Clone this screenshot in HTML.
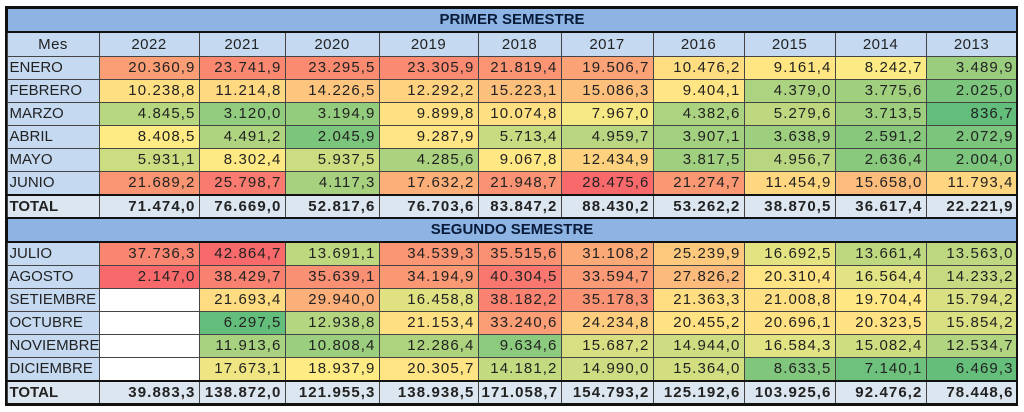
<!DOCTYPE html>
<html><head><meta charset="utf-8"><style>
html,body{margin:0;padding:0;background:#fff;width:1024px;height:412px;overflow:hidden}
table{position:absolute;left:6px;top:7px;border-collapse:collapse;table-layout:fixed;width:1010px;font-family:"Liberation Sans",sans-serif;font-size:15px;color:#222}
td{height:22px;padding:0 3px;border:1px solid #444;white-space:nowrap;overflow:hidden;line-height:20px}
td.n{text-align:right;letter-spacing:1.1px}
td.m{background:#C5D9F1;text-align:left;padding-left:2px;letter-spacing:0}
tr.h td{background:#C5D9F1;text-align:center;letter-spacing:0.5px;height:23px}
tr.t td{background:#8DB4E2;text-align:center;font-weight:bold;border:2px solid #111;color:#0a1a3a;height:22px}
tr.tot td{background:#DCE6F1;font-weight:bold;border-top:2px solid #111;border-bottom:2px solid #111;height:21px}
tr.tot td.n{background:#DCE6F1}
td.w{background:#fff}
.outer{position:absolute;left:5px;top:6px;width:1009px;height:396px;border:2px solid #111;pointer-events:none}
</style></head><body>
<table>
<colgroup><col style="width:92px"><col style="width:100px"><col style="width:86px"><col style="width:94px"><col style="width:99px"><col style="width:83px"><col style="width:92px"><col style="width:91px"><col style="width:91px"><col style="width:91px"><col style="width:91px"></colgroup>
<tr class="t"><td colspan="11">PRIMER SEMESTRE</td></tr>
<tr class="h"><td>Mes</td><td>2022</td><td>2021</td><td>2020</td><td>2019</td><td>2018</td><td>2017</td><td>2016</td><td>2015</td><td>2014</td><td>2013</td></tr>
<tr class="s1"><td class="m">ENERO</td><td class="n">20.360,9</td><td class="n">23.741,9</td><td class="n">23.295,5</td><td class="n">23.305,9</td><td class="n">21.819,4</td><td class="n">19.506,7</td><td class="n">10.476,2</td><td class="n">9.161,4</td><td class="n">8.242,7</td><td class="n">3.489,9</td></tr>
<tr class="s1"><td class="m">FEBRERO</td><td class="n">10.238,8</td><td class="n">11.214,8</td><td class="n">14.226,5</td><td class="n">12.292,2</td><td class="n">15.223,1</td><td class="n">15.086,3</td><td class="n">9.404,1</td><td class="n">4.379,0</td><td class="n">3.775,6</td><td class="n">2.025,0</td></tr>
<tr class="s1"><td class="m">MARZO</td><td class="n">4.845,5</td><td class="n">3.120,0</td><td class="n">3.194,9</td><td class="n">9.899,8</td><td class="n">10.074,8</td><td class="n">7.967,0</td><td class="n">4.382,6</td><td class="n">5.279,6</td><td class="n">3.713,5</td><td class="n">836,7</td></tr>
<tr class="s1"><td class="m">ABRIL</td><td class="n">8.408,5</td><td class="n">4.491,2</td><td class="n">2.045,9</td><td class="n">9.287,9</td><td class="n">5.713,4</td><td class="n">4.959,7</td><td class="n">3.907,1</td><td class="n">3.638,9</td><td class="n">2.591,2</td><td class="n">2.072,9</td></tr>
<tr class="s1"><td class="m">MAYO</td><td class="n">5.931,1</td><td class="n">8.302,4</td><td class="n">5.937,5</td><td class="n">4.285,6</td><td class="n">9.067,8</td><td class="n">12.434,9</td><td class="n">3.817,5</td><td class="n">4.956,7</td><td class="n">2.636,4</td><td class="n">2.004,0</td></tr>
<tr class="s1"><td class="m">JUNIO</td><td class="n">21.689,2</td><td class="n">25.798,7</td><td class="n">4.117,3</td><td class="n">17.632,2</td><td class="n">21.948,7</td><td class="n">28.475,6</td><td class="n">21.274,7</td><td class="n">11.454,9</td><td class="n">15.658,0</td><td class="n">11.793,4</td></tr>
<tr class="tot"><td class="m">TOTAL</td><td class="n">71.474,0</td><td class="n">76.669,0</td><td class="n">52.817,6</td><td class="n">76.703,6</td><td class="n">83.847,2</td><td class="n">88.430,2</td><td class="n">53.262,2</td><td class="n">38.870,5</td><td class="n">36.617,4</td><td class="n">22.221,9</td></tr>
<tr class="t"><td colspan="11">SEGUNDO SEMESTRE</td></tr>
<tr class="s2"><td class="m">JULIO</td><td class="n">37.736,3</td><td class="n">42.864,7</td><td class="n">13.691,1</td><td class="n">34.539,3</td><td class="n">35.515,6</td><td class="n">31.108,2</td><td class="n">25.239,9</td><td class="n">16.692,5</td><td class="n">13.661,4</td><td class="n">13.563,0</td></tr>
<tr class="s2"><td class="m">AGOSTO</td><td class="n red">2.147,0</td><td class="n">38.429,7</td><td class="n">35.639,1</td><td class="n">34.194,9</td><td class="n">40.304,5</td><td class="n">33.594,7</td><td class="n">27.826,2</td><td class="n">20.310,4</td><td class="n">16.564,4</td><td class="n">14.233,2</td></tr>
<tr class="s2"><td class="m">SETIEMBRE</td><td class="w"></td><td class="n">21.693,4</td><td class="n">29.940,0</td><td class="n">16.458,8</td><td class="n">38.182,2</td><td class="n">35.178,3</td><td class="n">21.363,3</td><td class="n">21.008,8</td><td class="n">19.704,4</td><td class="n">15.794,2</td></tr>
<tr class="s2"><td class="m">OCTUBRE</td><td class="w"></td><td class="n">6.297,5</td><td class="n">12.938,8</td><td class="n">21.153,4</td><td class="n">33.240,6</td><td class="n">24.234,8</td><td class="n">20.455,2</td><td class="n">20.696,1</td><td class="n">20.323,5</td><td class="n">15.854,2</td></tr>
<tr class="s2"><td class="m">NOVIEMBRE</td><td class="w"></td><td class="n">11.913,6</td><td class="n">10.808,4</td><td class="n">12.286,4</td><td class="n">9.634,6</td><td class="n">15.687,2</td><td class="n">14.944,0</td><td class="n">16.584,3</td><td class="n">15.082,4</td><td class="n">12.534,7</td></tr>
<tr class="s2"><td class="m">DICIEMBRE</td><td class="w"></td><td class="n">17.673,1</td><td class="n">18.937,9</td><td class="n">20.305,7</td><td class="n">14.181,2</td><td class="n">14.990,0</td><td class="n">15.364,0</td><td class="n">8.633,5</td><td class="n">7.140,1</td><td class="n">6.469,3</td></tr>
<tr class="tot"><td class="m">TOTAL</td><td class="n">39.883,3</td><td class="n">138.872,0</td><td class="n">121.955,3</td><td class="n">138.938,5</td><td class="n">171.058,7</td><td class="n">154.793,2</td><td class="n">125.192,6</td><td class="n">103.925,6</td><td class="n">92.476,2</td><td class="n">78.448,6</td></tr>
</table>
<div class="outer"></div>
<script>
function val(t){return parseFloat(t.replace(/\./g,'').replace(',','.'));}
var R=[248,105,107],Y=[255,235,132],G=[99,190,123];
function mix(a,b,f){return 'rgb('+a.map(function(v,i){return Math.round(v+(b[i]-v)*f)}).join(',')+')';}
['s1','s2'].forEach(function(c){
 var cells=[].slice.call(document.querySelectorAll('tr.'+c+' td.n'));
 var vs=cells.filter(function(x){return !x.classList.contains('red')}).map(function(x){return val(x.textContent)}).sort(function(a,b){return a-b});
 var mn=vs[0],mx=vs[vs.length-1],md=vs[Math.floor(vs.length/2)];
 cells.forEach(function(x){
  if(x.classList.contains('red')){x.style.background='rgb(248,105,107)';return;}
  var v=val(x.textContent);
  x.style.background= v<md? mix(G,Y,(v-mn)/(md-mn)) : mix(Y,R,(v-md)/(mx-md));
 });
});
</script>
</body></html>
